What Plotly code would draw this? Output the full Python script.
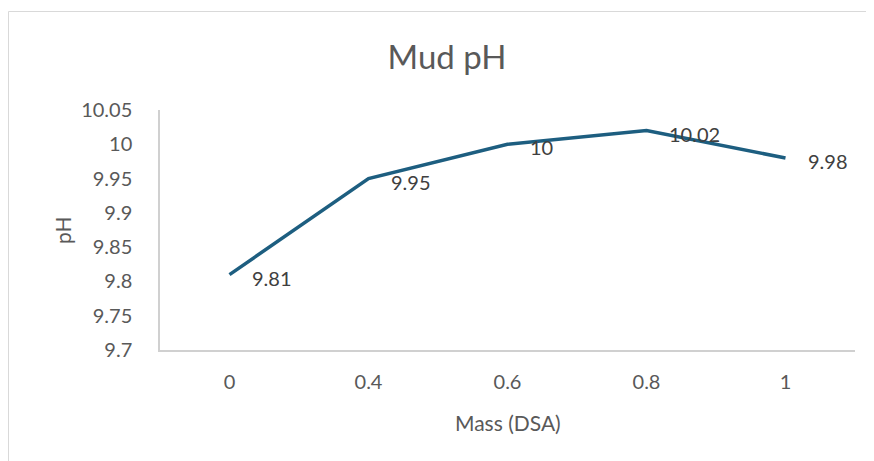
import plotly.graph_objects as go

mass = ["0", "0.4", "0.6", "0.8", "1"]
ph = [9.81, 9.95, 10.00, 10.02, 9.98]
y_ticks = [9.7, 9.75, 9.8, 9.85, 9.9, 9.95, 10.0, 10.05]
y_tick_text = ["9.7", "9.75", "9.8", "9.85", "9.9", "9.95", "10", "10.05"]

# page body has an 8px margin; work in screen coordinates and convert
OFF = 8
W, H = 874 - OFF, 461 - OFF
L, T = 160 - OFF, 110 - OFF
pw, ph_h = 695, 240
R = W - L - pw
B = H - T - ph_h

def px(x):
    return (x - OFF - L) / pw

def py(y):
    return (T + ph_h - (y - OFF)) / ph_h

FONT = "Lato, 'Open Sans', sans-serif"
TXT = "#595959"

fig = go.Figure()
fig.add_trace(go.Scatter(x=mass, y=ph, mode="lines",
                         line=dict(color="#1d5e80", width=3.5),
                         showlegend=False, hoverinfo="x+y"))

for i, yv in enumerate(ph):
    fig.add_annotation(x=i, y=yv, text=f"{yv:g}", showarrow=False,
                       xanchor="left", yanchor="middle", xshift=20, yshift=-3,
                       font=dict(family=FONT, size=20, color="#404040"))

fig.add_annotation(x=px(62), y=0.5, xref="paper", yref="paper", text="pH",
                   textangle=-90, showarrow=False, xanchor="center", yanchor="middle",
                   font=dict(family=FONT, size=21, color=TXT))
fig.add_annotation(x=0.5, y=py(422), xref="paper", yref="paper", text="Mass (DSA)",
                   showarrow=False, xanchor="center", yanchor="middle",
                   font=dict(family=FONT, size=21, color=TXT))

fig.add_shape(type="rect", xref="paper", yref="paper",
              x0=px(8.5), x1=px(890), y0=py(480), y1=py(11.5),
              line=dict(color="#d9d9d9", width=1), fillcolor="rgba(0,0,0,0)",
              layer="below")

fig.update_layout(
    width=W, height=H,
    margin=dict(l=L, r=R, t=T, b=B),
    paper_bgcolor="white", plot_bgcolor="white",
    title=dict(text="Mud pH", x=(447 - OFF) / W, xanchor="center",
               y=1 - (57 - OFF) / H, yanchor="middle",
               font=dict(family=FONT, size=33, color=TXT)),
    xaxis=dict(type="category", range=[-0.5, 4.5], showgrid=False,
               showline=True, linecolor="#d0d0d0", linewidth=1.5,
               ticks="", ticklabelstandoff=13, automargin=False,
               tickfont=dict(family=FONT, size=20, color=TXT), zeroline=False),
    yaxis=dict(range=[9.7, 10.05], tickvals=y_ticks, ticktext=y_tick_text,
               showgrid=False, showline=True, linecolor="#d0d0d0", linewidth=1.5,
               ticks="", ticklabelstandoff=22, automargin=False,
               tickfont=dict(family=FONT, size=20, color=TXT), zeroline=False),
)

fig.write_html("out.html")
